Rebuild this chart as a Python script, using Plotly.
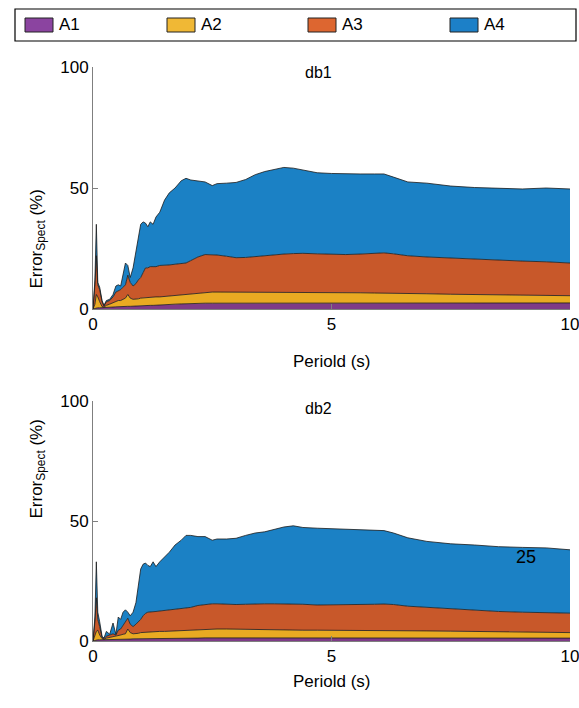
import plotly.graph_objects as go

# ---------------- data ----------------
period = [0.0, 0.04, 0.07, 0.10, 0.14, 0.19, 0.23, 0.28, 0.35, 0.42,
          0.48, 0.53, 0.58, 0.63, 0.68, 0.73, 0.78, 0.84, 0.9, 0.95,
          1.0, 1.05, 1.1, 1.15, 1.2, 1.26, 1.32, 1.4, 1.5, 1.6,
          1.72, 1.85, 1.95, 2.05, 2.2, 2.35, 2.5, 2.6, 2.8, 3.0,
          3.2, 3.4, 3.6, 3.8, 4.0, 4.2, 4.4, 4.7, 5.0, 5.3,
          5.6, 5.9, 6.1, 6.3, 6.6, 7.0, 7.5, 8.0, 8.5, 9.0,
          9.5, 10.0]

series_names = ["A1", "A2", "A3", "A4"]

db1_A1 = [0, 0.3, 0.5, 0.5, 0.5, 0.5, 0.5, 0.6, 0.7, 0.8,
          0.9, 1.0, 1.0, 1.0, 1.1, 1.1, 1.1, 1.2, 1.2, 1.2,
          1.3, 1.3, 1.4, 1.4, 1.5, 1.5, 1.6, 1.7, 1.8, 1.9,
          2.0, 2.1, 2.2, 2.2, 2.3, 2.4, 2.4, 2.4, 2.5, 2.5,
          2.5, 2.5, 2.5, 2.5, 2.5, 2.5, 2.5, 2.5, 2.5, 2.5,
          2.5, 2.5, 2.5, 2.5, 2.5, 2.5, 2.5, 2.5, 2.5, 2.5,
          2.5, 2.5]
db1_A2 = [0, 1.7, 5.5, 4.5, 2.5, 0.5, 0.3, 0.9, 1.3, 1.7,
          2.1, 2.5, 2.5, 3.0, 3.4, 4.9, 3.4, 2.8, 2.8, 3.0,
          3.2, 3.3, 3.4, 3.4, 3.4, 3.5, 3.4, 3.3, 3.4, 3.5,
          3.6, 3.7, 3.8, 4.0, 4.2, 4.4, 4.6, 4.6, 4.5, 4.5,
          4.5, 4.5, 4.5, 4.5, 4.5, 4.5, 4.4, 4.3, 4.3, 4.2,
          4.2, 4.1, 4.1, 4.0, 3.9, 3.8, 3.6, 3.5, 3.3, 3.2,
          3.1, 3.0]
db1_A3 = [0, 8, 16, 5, 5, 2, 0.4, 1.5, 1.5, 2.5,
          4, 4, 4.5, 5, 5.5, 8, 6.5, 5.5, 6.5, 7.8,
          8.5, 10.4, 12.2, 12.2, 12.6, 12.5, 12.5, 13, 12.8, 12.8,
          12.9, 12.9, 13, 13.8, 15, 15.7, 15.5, 15.3, 14.8, 14.2,
          14.3, 14.7, 15, 15.4, 15.7, 15.9, 16.1, 16.0, 15.7, 15.8,
          16.0, 16.4, 16.6, 16.3, 15.6, 15.2, 14.9, 14.5, 14.4, 14.1,
          13.9, 13.5]
db1_A4 = [0, 2, 13, 1, 1, 0.5, 0.3, 0.5, 0.5, 1,
          2.5, 2.5, 1.5, 6, 9, 4, 2, 7.5, 13.5, 18,
          22, 21, 18.5, 17, 18.5, 17.5, 20.5, 22, 27, 29.8,
          31.5, 34.3, 35, 33.3, 31.5, 30, 28.5, 29.5, 30.2, 31.1,
          32.2, 33.8, 34.8, 35.4, 35.8, 35.3, 34.5, 33.5, 33.5, 33.3,
          33.1, 32.8, 32.6, 31.7, 30.5, 30.5, 29.8, 29.7, 29.6, 29.8,
          30.5, 30.6]

db2_A1 = [0, 0.3, 0.5, 0.5, 0.5, 0.5, 0.5, 0.5, 0.6, 0.6,
          0.7, 0.7, 0.7, 0.8, 0.8, 0.8, 0.8, 0.9, 0.9, 0.9,
          1.0, 1.0, 1.0, 1.0, 1.0, 1.1, 1.1, 1.1, 1.1, 1.1,
          1.2, 1.2, 1.2, 1.2, 1.2, 1.3, 1.3, 1.3, 1.3, 1.3,
          1.3, 1.3, 1.3, 1.3, 1.3, 1.3, 1.3, 1.3, 1.3, 1.3,
          1.3, 1.3, 1.3, 1.3, 1.2, 1.2, 1.2, 1.2, 1.2, 1.2,
          1.2, 1.2]
db2_A2 = [0, 1.7, 3.5, 4.0, 2.0, 0.5, 0.2, 0.7, 0.9, 1.2,
          1.1, 1.6, 1.8, 2.0, 2.2, 4.2, 2.7, 2.1, 2.1, 2.3,
          2.5, 2.6, 2.7, 2.8, 2.8, 2.8, 2.8, 2.9, 2.9, 3.0,
          3.0, 3.1, 3.2, 3.3, 3.6, 3.7, 3.7, 3.7, 3.7, 3.6,
          3.5, 3.4, 3.3, 3.3, 3.3, 3.2, 3.2, 3.2, 3.2, 3.2,
          3.2, 3.2, 3.1, 3.1, 3.1, 3.0, 2.9, 2.8, 2.6, 2.5,
          2.4, 2.3]
db2_A3 = [0, 6, 14, 4.5, 3.5, 0.5, 0.3, 0.8, 1.0, 1.2,
          0.7, 2.2, 2.5, 3.7, 4.5, 4.5, 3.5, 3.0, 4.0, 4.8,
          5.5, 6.9, 7.8, 8.2, 8.2, 8.3, 8.4, 8.5, 8.7, 8.9,
          9.0, 9.1, 9.1, 9.5, 10.0, 10.3, 10.5, 10.5, 10.3, 10.3,
          10.5, 10.8, 10.9, 10.9, 10.9, 11.0, 10.8, 10.5, 10.5, 10.5,
          10.7, 10.8, 11.0, 10.8, 10.2, 9.8, 9.2, 8.8, 8.5, 8.3,
          8.2, 8.1]
db2_A4 = [0, 2, 15, 3, 2, 0.5, 0.2, 2.0, 0.3, 4.5,
          0.3, 5.5, 4.0, 5.5, 5.5, 2.5, 3.5, 6.0, 9.0, 15.0,
          21.0, 21.5, 21.0, 19.5, 19.0, 20.8, 18.7, 20.5, 22.3, 24.0,
          26.8, 28.6, 30.5, 30.0, 28.7, 28.2, 26.5, 27.0, 27.2, 27.6,
          28.7, 29.5, 30.0, 31.0, 32.0, 32.5, 32.0, 32.0, 31.8, 31.3,
          31.1, 30.7, 30.6, 29.8, 28.5, 27.5, 27.2, 27.2, 27.0, 27.0,
          27.0, 26.4]

panel_titles = ["db1", "db2"]
x_ticks = [0, 5, 10]
y_ticks = [0, 50, 100]
note_text = "25"

# ---------------- styling ----------------
fill_colors = ["#7e3b87", "#e9aa22", "#c8582a", "#1b81c5"]
legend_colors = ["#8b44a0", "#f0b835", "#dd6630", "#1c80c8"]
FONT = "Arial, Liberation Sans, sans-serif"
W, H = 579, 708

fig = go.Figure()

panels = [
    (panel_titles[0], [db1_A1, db1_A2, db1_A3, db1_A4], "x", "y"),
    (panel_titles[1], [db2_A1, db2_A2, db2_A3, db2_A4], "x2", "y2"),
]
for pi, (title, layers, xa, ya) in enumerate(panels):
    for name, vals, col in zip(series_names, layers, fill_colors):
        fig.add_trace(go.Scatter(
            x=period, y=vals, name=name, xaxis=xa, yaxis=ya,
            stackgroup=title, mode="lines",
            line=dict(color="#1a1a1a", width=0.8),
            fillcolor=col, showlegend=False,
            hoverinfo="skip",
        ))

def px_x(p):
    return p / W

def px_y(p):
    return 1 - p / H

axis_common = dict(
    showgrid=False, zeroline=False, showline=True, linecolor="#7f7f7f",
    linewidth=1, ticks="inside", ticklen=5, tickcolor="#7f7f7f",
    tickfont=dict(family=FONT, size=17, color="#000"),
    automargin=False, ticklabeloverflow="allow",
)

fig.update_layout(
    width=W, height=H,
    margin=dict(l=0, r=0, t=0, b=0, autoexpand=False),
    paper_bgcolor="white", plot_bgcolor="white",
    font=dict(family=FONT, color="#000"),
    xaxis=dict(domain=[px_x(93), px_x(570)], range=[0, 10], tickvals=x_ticks,
               anchor="y", **axis_common),
    yaxis=dict(domain=[px_y(309), px_y(67)], range=[0, 100], tickvals=y_ticks,
               anchor="x", **axis_common),
    xaxis2=dict(domain=[px_x(93), px_x(570)], range=[0, 10], tickvals=x_ticks,
                anchor="y2", **axis_common),
    yaxis2=dict(domain=[px_y(641), px_y(401)], range=[0, 100], tickvals=y_ticks,
                anchor="x2", **axis_common),
    showlegend=False,
)

shapes = []
annots = []

# legend box drawn by hand
shapes.append(dict(type="rect", xref="paper", yref="paper",
                   x0=px_x(15), x1=px_x(576), y0=px_y(41), y1=px_y(9),
                   line=dict(color="#000", width=1.2), fillcolor="white"))
legend_x0 = [25, 167, 308, 450]
for name, col, x0 in zip(series_names, legend_colors, legend_x0):
    shapes.append(dict(type="rect", xref="paper", yref="paper",
                       x0=px_x(x0), x1=px_x(x0 + 28), y0=px_y(32), y1=px_y(18),
                       line=dict(color="#222", width=1), fillcolor=col))
    annots.append(dict(text=name, x=px_x(x0 + 32), y=px_y(25), xref="paper",
                       yref="paper", xanchor="left", yanchor="middle",
                       showarrow=False,
                       font=dict(family=FONT, size=17, color="#000")))

for title, ytit, ylab_c, xlab_y in [(panel_titles[0], 62, 188, 361),
                                     (panel_titles[1], 408, 521, 693)]:
    annots.append(dict(text=title, x=px_x(318), y=px_y(ytit), xref="paper",
                       yref="paper", showarrow=False,
                       font=dict(family=FONT, size=16, color="#000")))
    annots.append(dict(text="Error<sub>Spect</sub> (%)", x=px_x(24),
                       y=px_y(ylab_c), xref="paper", yref="paper",
                       showarrow=False, textangle=-90,
                       font=dict(family=FONT, size=17, color="#000")))
    annots.append(dict(text="Periold (s)", x=px_x(331), y=px_y(xlab_y),
                       xref="paper", yref="paper", showarrow=False,
                       font=dict(family=FONT, size=17, color="#000")))
annots.append(dict(text=note_text, x=9.08, y=35, xref="x2", yref="y2",
                   showarrow=False,
                   font=dict(family=FONT, size=18, color="#000")))
fig.update_layout(annotations=annots, shapes=shapes)

fig.write_html(
    "out.html",
    config={"displayModeBar": False},
    post_script="document.body.style.margin='0px';"
                "document.body.style.overflow='hidden';",
)
